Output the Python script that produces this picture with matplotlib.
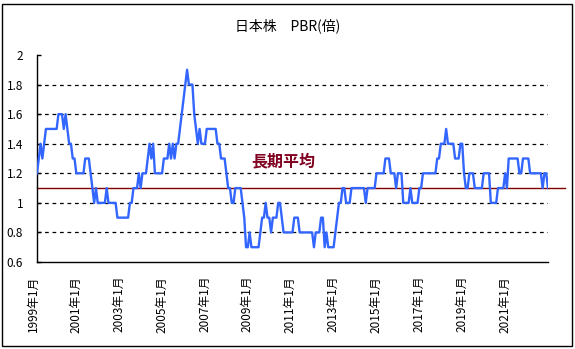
import matplotlib
matplotlib.use("Agg")
import matplotlib.pyplot as plt
import matplotlib.transforms as mtransforms
from matplotlib.patches import Rectangle

plt.rcParams['font.family'] = ['Noto Sans CJK JP', 'DejaVu Sans']

# Monthly PBR of Japanese equities, January 1999 onward (one row per year)
pbr_1999 = [1.2, 1.3, 1.4, 1.3, 1.4, 1.5, 1.5, 1.5, 1.5, 1.5, 1.5, 1.5]
pbr_2000 = [1.6, 1.6, 1.6, 1.5, 1.6, 1.5, 1.4, 1.4, 1.3, 1.3, 1.2, 1.2]
pbr_2001 = [1.2, 1.2, 1.2, 1.3, 1.3, 1.3, 1.2, 1.1, 1.0, 1.1, 1.0, 1.0]
pbr_2002 = [1.0, 1.0, 1.0, 1.1, 1.0, 1.0, 1.0, 1.0, 1.0, 0.9, 0.9, 0.9]
pbr_2003 = [0.9, 0.9, 0.9, 0.9, 1.0, 1.0, 1.1, 1.1, 1.1, 1.2, 1.1, 1.2]
pbr_2004 = [1.2, 1.2, 1.3, 1.4, 1.3, 1.4, 1.2, 1.2, 1.2, 1.2, 1.2, 1.3]
pbr_2005 = [1.3, 1.3, 1.4, 1.3, 1.4, 1.3, 1.4, 1.4, 1.5, 1.6, 1.7, 1.8]
pbr_2006 = [1.9, 1.8, 1.8, 1.8, 1.6, 1.5, 1.4, 1.5, 1.4, 1.4, 1.4, 1.5]
pbr_2007 = [1.5, 1.5, 1.5, 1.5, 1.5, 1.4, 1.4, 1.3, 1.3, 1.3, 1.2, 1.1]
pbr_2008 = [1.1, 1.0, 1.0, 1.1, 1.1, 1.1, 1.1, 1.0, 0.9, 0.7, 0.7, 0.8]
pbr_2009 = [0.7, 0.7, 0.7, 0.7, 0.7, 0.8, 0.9, 0.9, 1.0, 0.9, 0.9, 0.8]
pbr_2010 = [0.9, 0.9, 0.9, 1.0, 1.0, 0.9, 0.8, 0.8, 0.8, 0.8, 0.8, 0.8]
pbr_2011 = [0.9, 0.9, 0.9, 0.8, 0.8, 0.8, 0.8, 0.8, 0.8, 0.8, 0.8, 0.7]
pbr_2012 = [0.8, 0.8, 0.8, 0.9, 0.9, 0.7, 0.8, 0.7, 0.7, 0.7, 0.7, 0.8]
pbr_2013 = [0.9, 1.0, 1.0, 1.1, 1.1, 1.0, 1.0, 1.0, 1.1, 1.1, 1.1, 1.1]
pbr_2014 = [1.1, 1.1, 1.1, 1.1, 1.0, 1.1, 1.1, 1.1, 1.1, 1.1, 1.2, 1.2]
pbr_2015 = [1.2, 1.2, 1.2, 1.3, 1.3, 1.3, 1.2, 1.2, 1.2, 1.1, 1.2, 1.2]
pbr_2016 = [1.2, 1.0, 1.0, 1.0, 1.0, 1.1, 1.0, 1.0, 1.0, 1.0, 1.1, 1.1]
pbr_2017 = [1.2, 1.2, 1.2, 1.2, 1.2, 1.2, 1.2, 1.2, 1.3, 1.3, 1.4, 1.4]
pbr_2018 = [1.4, 1.5, 1.4, 1.4, 1.4, 1.4, 1.3, 1.3, 1.3, 1.4, 1.4, 1.2]
pbr_2019 = [1.1, 1.1, 1.2, 1.2, 1.2, 1.1, 1.1, 1.1, 1.1, 1.1, 1.2, 1.2]
pbr_2020 = [1.2, 1.2, 1.0, 1.0, 1.0, 1.0, 1.1, 1.1, 1.1, 1.1, 1.2, 1.1]
pbr_2021 = [1.3, 1.3, 1.3, 1.3, 1.3, 1.3, 1.2, 1.2, 1.3, 1.3, 1.3, 1.3]
pbr_2022 = [1.2, 1.2, 1.2, 1.2, 1.2, 1.2, 1.2, 1.1, 1.2, 1.2, 1.1]

long_term_avg = 1.1

tick_labels = ["1999年1月", "2001年1月", "2003年1月", "2005年1月",
               "2007年1月", "2009年1月", "2011年1月", "2013年1月",
               "2015年1月", "2017年1月", "2019年1月", "2021年1月"]
y_ticks = [0.6, 0.8, 1.0, 1.2, 1.4, 1.6, 1.8, 2.0]
y_tick_labels = ["0.6", "0.8", "1", "1.2", "1.4", "1.6", "1.8", "2"]

pbr = (pbr_1999 + pbr_2000 + pbr_2001 + pbr_2002 + pbr_2003 + pbr_2004
       + pbr_2005 + pbr_2006 + pbr_2007 + pbr_2008 + pbr_2009 + pbr_2010
       + pbr_2011 + pbr_2012 + pbr_2013 + pbr_2014 + pbr_2015 + pbr_2016
       + pbr_2017 + pbr_2018 + pbr_2019 + pbr_2020 + pbr_2021 + pbr_2022)
months = list(range(len(pbr)))
tick_pos = [24 * k for k in range(len(tick_labels))]

fig = plt.figure(figsize=(5.75, 3.49), dpi=100)
fig.patch.set_facecolor('white')
fig.patches.append(Rectangle((2 / 575, 3 / 349), 570 / 575, 342 / 349,
                             transform=fig.transFigure, fill=False,
                             edgecolor='black', linewidth=1.0))

ax = fig.add_axes([37 / 575, 87 / 349, 511 / 575, 207 / 349])
ax.set_xlim(0, len(pbr) - 1)
ax.set_ylim(0.6, 2.0)

# dashed reference grid
for yv in y_ticks[1:-1]:
    ax.axhline(yv, color='black', linewidth=0.9, linestyle=(0, (3, 3)), zorder=1)

ax.plot(months, pbr, color='#3366FF', linewidth=1.7, zorder=3)

# long-term average, running a little past the plot edge
ax.plot([0, len(pbr) - 1 + 9.5], [long_term_avg, long_term_avg],
        color='#800000', linewidth=1.0, clip_on=False, zorder=2)
ax.text(138, 1.28, "長期平均", color='#800020', fontsize=11.5,
        fontweight='bold', ha='center', va='center', zorder=4)

for side in ('top', 'right'):
    ax.spines[side].set_visible(False)
for side in ('left', 'bottom'):
    ax.spines[side].set_linewidth(1.0)
    ax.spines[side].set_color('black')

ax.set_yticks(y_ticks)
ax.set_yticklabels(y_tick_labels)
ax.tick_params(axis='y', direction='in', length=3, width=1, pad=10, labelsize=8.5)
ax.set_xticks(tick_pos)
ax.set_xticklabels(tick_labels, rotation=90)
ax.tick_params(axis='x', length=0, pad=10, labelsize=8.5)
shift = mtransforms.ScaledTranslation(-4 / 100, 0, fig.dpi_scale_trans)
for lbl in ax.get_xticklabels():
    lbl.set_transform(lbl.get_transform() + shift)

fig.text(0.5, 1 - 26 / 349, "日本株　PBR(倍)", ha='center', va='center', fontsize=10)

fig.savefig("out.png", dpi=100)
